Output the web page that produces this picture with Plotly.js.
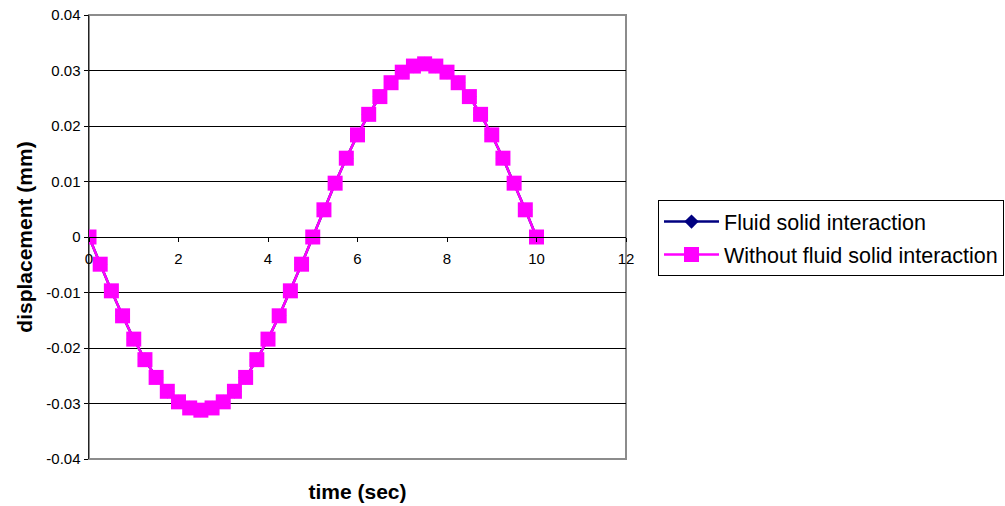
<!DOCTYPE html>
<html>
<head>
<meta charset="utf-8">
<script src="https://cdn.plot.ly/plotly-3.0.1.min.js"></script>
<style>
  html, body { margin: 0; padding: 0; background: #ffffff; }
  #chart { width: 1005px; height: 506px; }
</style>
</head>
<body>
<div id="chart"></div>
<script>
// Sampling instants (s)
const time = [
  0, 0.25, 0.5, 0.75, 1, 1.25, 1.5, 1.75, 2, 2.25,
  2.5, 2.75, 3, 3.25, 3.5, 3.75, 4, 4.25, 4.5, 4.75,
  5, 5.25, 5.5, 5.75, 6, 6.25, 6.5, 6.75, 7, 7.25,
  7.5, 7.75, 8, 8.25, 8.5, 8.75, 9, 9.25, 9.5, 9.75, 10
];

// Displacement with fluid-solid interaction (mm)
const dispFSI = [
  0, -0.0049, -0.0097, -0.0142, -0.0184, -0.0221, -0.0253, -0.0278, -0.0297, -0.0308,
  -0.0312, -0.0308, -0.0297, -0.0278, -0.0253, -0.0221, -0.0184, -0.0142, -0.0097, -0.0049,
  0, 0.0049, 0.0097, 0.0142, 0.0184, 0.0221, 0.0253, 0.0278, 0.0297, 0.0308,
  0.0312, 0.0308, 0.0297, 0.0278, 0.0253, 0.0221, 0.0184, 0.0142, 0.0097, 0.0049, 0
];

// Displacement without fluid-solid interaction (mm)
const dispNoFSI = [
  0, -0.0049, -0.0097, -0.0142, -0.0184, -0.0221, -0.0253, -0.0278, -0.0297, -0.0308,
  -0.0312, -0.0308, -0.0297, -0.0278, -0.0253, -0.0221, -0.0184, -0.0142, -0.0097, -0.0049,
  0, 0.0049, 0.0097, 0.0142, 0.0184, 0.0221, 0.0253, 0.0278, 0.0297, 0.0308,
  0.0312, 0.0308, 0.0297, 0.0278, 0.0253, 0.0221, 0.0184, 0.0142, 0.0097, 0.0049, 0
];

// Axis ticks
const xTickVals = [0, 2, 4, 6, 8, 10, 12];
const xTickText = ['0', '2', '4', '6', '8', '10', '12'];
const yTickVals = [-0.04, -0.03, -0.02, -0.01, 0, 0.01, 0.02, 0.03, 0.04];
const yTickText = ['-0.04', '-0.03', '-0.02', '-0.01', '0', '0.01', '0.02', '0.03', '0.04'];

const FONT = '"Liberation Sans", Arial, sans-serif';

const traces = [
  {
    x: time, y: dispFSI,
    name: 'Fluid solid interaction',
    type: 'scatter', mode: 'lines+markers',
    xaxis: 'x', yaxis: 'y',
    legendgroup: 'a',
    line: { color: '#000080', width: 2.5 },
    marker: { symbol: 'diamond', size: 11, color: '#000080' }
  },
  {
    x: time, y: dispNoFSI,
    name: 'Without fluid solid interaction',
    type: 'scatter', mode: 'lines+markers',
    xaxis: 'x2', yaxis: 'y',
    legendgroup: 'b',
    line: { color: '#ff00ff', width: 2.5 },
    marker: { symbol: 'square', size: 15, color: '#ff00ff' }
  }
];

const layout = {
  width: 1005, height: 506,
  margin: { l: 89, r: 379, t: 15, b: 47, autoexpand: false },
  paper_bgcolor: '#ffffff',
  plot_bgcolor: '#ffffff',
  font: { family: FONT, color: '#000000' },
  showlegend: true,
  hovermode: false,
  // bottom axis carries only the title
  xaxis: {
    range: [0, 12],
    showticklabels: false, ticks: '', showgrid: false, zeroline: false, showline: false,
    title: { text: 'time (sec)', font: { family: FONT, size: 21, weight: 'bold' }, standoff: 25 }
  },
  // value axis crossing at y = 0
  xaxis2: {
    overlaying: 'x', anchor: 'free', position: 0.5, side: 'bottom',
    range: [0, 12],
    tickvals: xTickVals, ticktext: xTickText,
    ticks: 'outside', ticklen: 4, tickwidth: 1, tickcolor: '#000000',
    ticklabelstandoff: 4,
    tickfont: { family: FONT, size: 15, color: '#000000' },
    showgrid: false, zeroline: false,
    showline: true, linecolor: '#000000', linewidth: 1
  },
  yaxis: {
    range: [-0.04, 0.04],
    tickvals: yTickVals, ticktext: yTickText,
    ticks: 'outside', ticklen: 4, tickwidth: 1, tickcolor: '#000000',
    tickfont: { family: FONT, size: 15, color: '#000000' },
    showgrid: true, gridcolor: '#000000', gridwidth: 1,
    zeroline: false,
    showline: true, linecolor: '#222222', linewidth: 1.5,
    title: { text: 'displacement (mm)', font: { family: FONT, size: 21, weight: 'bold' }, standoff: 8 }
  },
  legend: {
    x: 1.0596, y: 0.583, xanchor: 'left', yanchor: 'top',
    bgcolor: '#ffffff', bordercolor: '#000000', borderwidth: 1,
    font: { family: FONT, size: 21.5, color: '#000000' },
    itemwidth: 55,
    traceorder: 'grouped', tracegroupgap: 2
  },
  shapes: [
    {
      type: 'rect', xref: 'paper', yref: 'paper',
      x0: 0, x1: 1, y0: 0, y1: 1,
      line: { color: '#8c8c8c', width: 2 },
      layer: 'below'
    }
  ]
};

Plotly.newPlot('chart', traces, layout, { displayModeBar: false, staticPlot: true });
</script>
</body>
</html>
